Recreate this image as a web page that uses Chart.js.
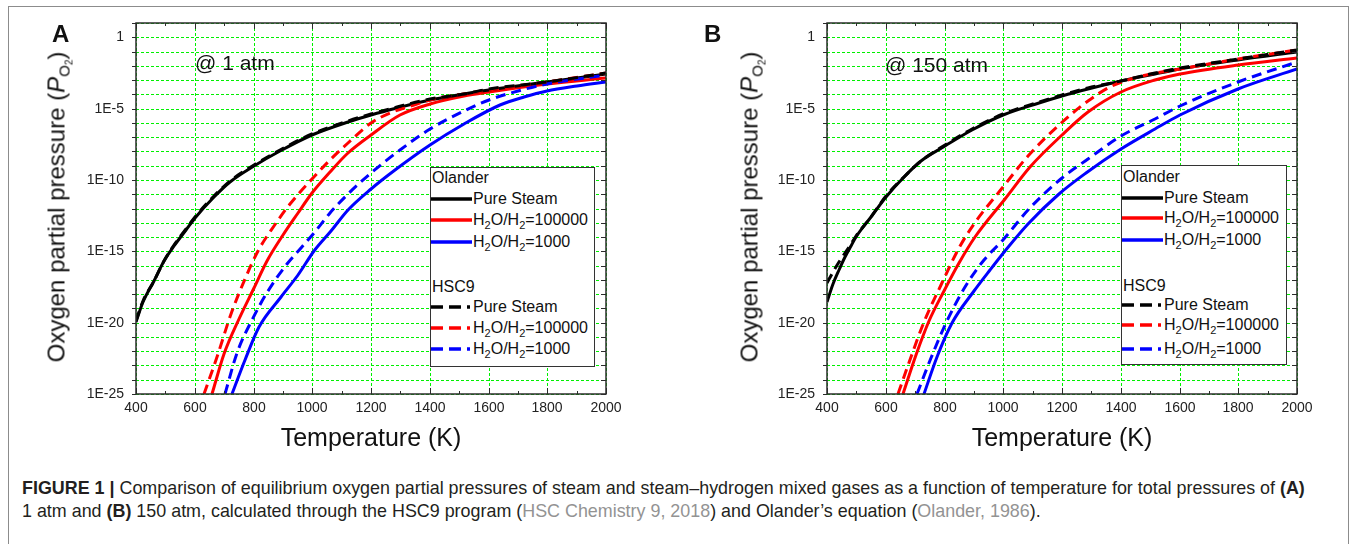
<!DOCTYPE html>
<html lang="en">
<head>
<meta charset="UTF-8">
<title>Equilibrium oxygen partial pressure</title>
<script src="https://cdn.jsdelivr.net/npm/chart.js"></script>
<style>
  body { margin: 0; background: #fff; font-family: 'Liberation Sans', Arial, sans-serif; color: #111; }
  #page { position: relative; width: 1356px; height: 544px; overflow: hidden; }
  .frame { position: absolute; left: 8px; top: 6px; width: 1339px; height: 600px; border: 1px solid #8c8c8c; }
  canvas.plot { position: absolute; top: 0; }
  .letter { position: absolute; font-weight: bold; font-size: 24px; line-height: 24px; }
  .note { position: absolute; font-size: 21px; line-height: 21px; white-space: nowrap; }
  .ytitle { position: absolute; font-size: 24px; line-height: 24px; white-space: nowrap;
            transform: translate(-50%, -50%) rotate(-90deg); }
  .ytitle .s1 { font-size: 15px; position: relative; top: 5px; }
  .ytitle .s2 { font-size: 10px; position: relative; top: 3px; }
  .legend { position: absolute; border: 1px solid #333; background: #fff; font-size: 16px; }
  .legend .row { position: absolute; left: 0; height: 16px; line-height: 16px; white-space: nowrap; }
  .legend .row svg { position: absolute; left: 0; top: 5px; }
  .legend .row span.t { position: absolute; left: 42px; top: 0; }
  .legend sub { font-size: 11px; vertical-align: -4px; line-height: 0; }
  .caption { position: absolute; left: 22px; font-size: 17.9px; line-height: 18px; white-space: nowrap; color: #231f20; }
  .caption b { font-weight: bold; }
  .caption .ref { color: #939393; }
</style>
</head>
<body>
<div id="page">
  <div class="frame"></div>
  <canvas id="chartA" class="plot" width="665" height="460" style="left:0px"></canvas>
  <canvas id="chartB" class="plot" width="665" height="460" style="left:691px"></canvas>

  <div class="letter" style="left:52px; top:22px">A</div>
  <div class="letter" style="left:704px; top:22px">B</div>
  <div class="note" style="left:195px; top:52px">@ 1 atm</div>
  <div class="note" style="left:885px; top:54px">@ 150 atm</div>
  <div class="ytitle" style="left:59px; top:207px">Oxygen partial pressure (<i>P</i><span class="s1">O<span class="s2">2</span></span>)</div>
  <div class="ytitle" style="left:752px; top:207px">Oxygen partial pressure (<i>P</i><span class="s1">O<span class="s2">2</span></span>)</div>

  <div id="legendA" class="legend" style="left:430px; top:167px; width:163px; height:198px"></div>
  <div id="legendB" class="legend" style="left:1121px; top:165px; width:164px; height:198px"></div>

  <div class="caption" style="top:479px"><b>FIGURE 1 |</b> Comparison of equilibrium oxygen partial pressures of steam and steam–hydrogen mixed gases as a function of temperature for total pressures of <b>(A)</b></div>
  <div class="caption" style="top:502px">1 atm and <b>(B)</b> 150 atm, calculated through the HSC9 program (<span class="ref">HSC Chemistry 9, 2018</span>) and Olander’s equation (<span class="ref">Olander, 1986</span>).</div>
</div>

<script>
// y values are log10 of the oxygen partial pressure
// panel A, 1 atm
const aOlPureT = [400, 425, 460, 495, 530, 570, 600, 665, 720, 800, 890, 1000, 1120, 1200, 1290, 1400, 1515, 1600, 1800, 2000];
const aOlPureP = [-19.95, -18.55, -17.1, -15.7, -14.6, -13.5, -12.65, -11.2, -10.15, -9.0, -7.95, -6.85, -5.95, -5.45, -4.95, -4.4, -4.0, -3.7, -3.15, -2.55];
const aHscPureT = [400, 425, 460, 495, 530, 570, 600, 665, 720, 800, 890, 1000, 1120, 1200, 1290, 1400, 1515, 1600, 1800, 2000];
const aHscPureP = [-19.9, -18.5, -17.05, -15.65, -14.55, -13.45, -12.6, -11.15, -10.1, -8.95, -7.9, -6.8, -5.9, -5.4, -4.92, -4.36, -3.96, -3.65, -3.1, -2.5];
const aOl5T = [660, 700, 750, 800, 845, 900, 950, 1000, 1060, 1120, 1200, 1300, 1400, 1515, 1600, 1800, 2000];
const aOl5P = [-25, -22.2, -19.75, -17.55, -15.65, -13.85, -12.3, -10.9, -9.45, -8.1, -6.85, -5.45, -4.65, -4.15, -3.85, -3.3, -2.87];
const aHsc5T = [630, 675, 725, 770, 815, 870, 925, 1000, 1060, 1120, 1200, 1265, 1345, 1400, 1515, 1600, 1800, 2000];
const aHsc5P = [-25, -22.4, -19.4, -16.95, -15.0, -13.2, -11.65, -9.9, -8.6, -7.4, -6.0, -5.28, -4.74, -4.42, -4.0, -3.68, -3.12, -2.52];
const aOl3T = [728, 770, 820, 895, 950, 1005, 1065, 1120, 1200, 1280, 1400, 1515, 1640, 1720, 1800, 1900, 2000];
const aOl3P = [-25, -22.6, -20.3, -18.2, -16.65, -15.0, -13.55, -12.1, -10.6, -9.3, -7.55, -6.1, -4.75, -4.2, -3.8, -3.45, -3.1];
const aHsc3T = [703, 745, 795, 850, 915, 960, 1005, 1060, 1120, 1200, 1300, 1400, 1515, 1600, 1700, 1800, 2000];
const aHsc3P = [-25, -22.15, -19.8, -17.75, -15.9, -14.75, -13.7, -12.3, -10.95, -9.5, -7.9, -6.45, -5.2, -4.4, -3.75, -3.3, -2.65];

// panel B, 150 atm
const bOlPureT = [400, 420, 440, 460, 480, 500, 550, 600, 665, 720, 800, 895, 1000, 1120, 1200, 1290, 1400, 1515, 1600, 1800, 2000];
const bOlPureP = [-18.55, -17.3, -16.3, -15.4, -14.65, -14.0, -12.6, -11.2, -9.75, -8.7, -7.6, -6.5, -5.45, -4.6, -4.12, -3.62, -3.08, -2.58, -2.25, -1.6, -1.02];
const bHscPureT = [400, 420, 440, 460, 480, 500, 550, 600, 665, 720, 800, 895, 1000, 1120, 1200, 1290, 1400, 1515, 1600, 1800, 2000];
const bHscPureP = [-17.2, -16.45, -15.75, -15.1, -14.5, -13.95, -12.58, -11.15, -9.7, -8.65, -7.55, -6.45, -5.4, -4.55, -4.07, -3.57, -3.03, -2.52, -2.18, -1.5, -0.92];
const bOl5T = [659, 702, 747, 798, 850, 905, 1005, 1090, 1200, 1290, 1400, 1515, 1600, 1800, 2000];
const bOl5P = [-25, -22.3, -19.9, -17.8, -15.8, -14.0, -11.3, -9.1, -6.85, -5.25, -3.85, -3.0, -2.6, -1.95, -1.45];
const bHsc5T = [642, 685, 730, 787, 850, 900, 1000, 1085, 1190, 1290, 1365, 1460, 1600, 1800, 2000];
const bHsc5P = [-25, -22.4, -19.95, -17.35, -14.8, -13.1, -10.5, -8.35, -6.15, -4.45, -3.5, -2.78, -2.2, -1.5, -0.88];
const bOl3T = [730, 775, 825, 900, 955, 1005, 1085, 1190, 1280, 1400, 1515, 1600, 1800, 2000];
const bOl3P = [-25, -22.4, -20.05, -17.8, -16.3, -14.95, -13.1, -11.0, -9.5, -7.8, -6.4, -5.45, -3.65, -2.2];
const bHsc3T = [707, 753, 805, 870, 935, 1000, 1085, 1200, 1290, 1400, 1515, 1600, 1800, 2000];
const bHsc3P = [-25, -22.5, -20.0, -17.5, -15.6, -14.2, -12.1, -9.85, -8.5, -6.95, -5.7, -4.85, -3.15, -1.72];

// axes
const xMin = 400, xMax = 2000, xStep = 200;
const yDecades = [1, 0, -1, -2, -3, -4, -5, -6, -7, -8, -9, -10, -11, -12, -13, -14, -15, -16, -17, -18, -19, -20, -21, -22, -23, -24, -25];
const yLabelExp = [0, -5, -10, -15, -20, -25];
const yLabelText = ['1', '1E-5', '1E-10', '1E-15', '1E-20', '1E-25'];

const seriesNames = ['Pure Steam', 'H<sub>2</sub>O/H<sub>2</sub>=100000', 'H<sub>2</sub>O/H<sub>2</sub>=1000'];
const seriesColors = ['#000000', '#ff0000', '#0000ff'];
const gridGreen = '#00f000';

Chart.defaults.font.family = "'Liberation Sans', Arial, sans-serif";

function toPoints(t, p) {
  return t.map((v, i) => ({ x: v, y: Math.pow(10, p[i]) }));
}

// tick marks on all four sides and the box around the plot
const frameTicks = {
  id: 'frameTicks',
  afterDraw(chart) {
    const { ctx, chartArea: a, scales: { x, y } } = chart;
    ctx.save();
    ctx.strokeStyle = '#2b2b2b';
    ctx.lineWidth = 1;
    ctx.beginPath();
    for (let t = xMin; t <= xMax; t += xStep / 2) {
      const px = Math.round(x.getPixelForValue(t)) + 0.5;
      const len = t % xStep === 0 ? 6 : 3;
      ctx.moveTo(px, a.bottom); ctx.lineTo(px, a.bottom - len);
      ctx.moveTo(px, a.top); ctx.lineTo(px, a.top + len);
    }
    yDecades.forEach(e => {
      const py = Math.round(y.getPixelForValue(Math.pow(10, e))) + 0.5;
      ctx.moveTo(a.left - 4, py); ctx.lineTo(a.left, py);
      ctx.moveTo(a.right, py); ctx.lineTo(a.right - 5, py);
    });
    ctx.stroke();
    ctx.lineWidth = 1.5;
    ctx.strokeRect(a.left, a.top, a.right - a.left, a.bottom - a.top);
    ctx.restore();
  }
};

function makePanel(id, sets) {
  const datasets = sets.map(s => ({
    label: s.label,
    data: toPoints(s.t, s.p),
    borderColor: s.color,
    borderWidth: 3,
    borderDash: s.dash ? [10, 6] : [],
    pointRadius: 0,
    fill: false,
    cubicInterpolationMode: 'monotone'
  }));
  return new Chart(document.getElementById(id), {
    type: 'line',
    data: { datasets },
    options: {
      responsive: false,
      animation: false,
      layout: { padding: { left: 0, top: 23, right: 59, bottom: 0 } },
      plugins: { legend: { display: false }, tooltip: { enabled: false } },
      scales: {
        x: {
          type: 'linear', min: xMin, max: xMax, alignToPixels: true,
          ticks: { stepSize: xStep, color: '#222', font: { size: 14 }, padding: 6, maxRotation: 0,
                   callback: v => String(v) },
          grid: { color: gridGreen, lineWidth: 1, drawTicks: false },
          border: { display: false, dash: [3, 2] },
          title: { display: true, text: 'Temperature (K)', color: '#111', font: { size: 25 }, padding: { top: 0, bottom: 6 } },
          afterFit: s => { s.height = 66; }
        },
        y: {
          type: 'logarithmic', min: 1e-25, max: 10, alignToPixels: true,
          afterBuildTicks: s => { s.ticks = yDecades.map(e => ({ value: Math.pow(10, e) })); },
          ticks: {
            autoSkip: false, color: '#222', padding: 12,
            font: { family: "'Liberation Sans Narrow', 'Liberation Sans', Arial", size: 14 },
            callback: v => {
              const k = yLabelExp.indexOf(Math.round(Math.log10(v)));
              return k >= 0 ? yLabelText[k] : '';
            }
          },
          grid: { color: gridGreen, lineWidth: 1, drawTicks: false },
          border: { display: false, dash: [3, 2] },
          afterFit: s => { s.width = 136; }
        }
      }
    },
    plugins: [frameTicks]
  });
}

// dashed (HSC9) first so they sit on top of the solid Olander lines
makePanel('chartA', [
  { label: 'HSC9 Pure Steam', t: aHscPureT, p: aHscPureP, color: seriesColors[0], dash: true },
  { label: 'HSC9 100000', t: aHsc5T, p: aHsc5P, color: seriesColors[1], dash: true },
  { label: 'HSC9 1000', t: aHsc3T, p: aHsc3P, color: seriesColors[2], dash: true },
  { label: 'Olander Pure Steam', t: aOlPureT, p: aOlPureP, color: seriesColors[0], dash: false },
  { label: 'Olander 100000', t: aOl5T, p: aOl5P, color: seriesColors[1], dash: false },
  { label: 'Olander 1000', t: aOl3T, p: aOl3P, color: seriesColors[2], dash: false }
]);
makePanel('chartB', [
  { label: 'HSC9 Pure Steam', t: bHscPureT, p: bHscPureP, color: seriesColors[0], dash: true },
  { label: 'HSC9 100000', t: bHsc5T, p: bHsc5P, color: seriesColors[1], dash: true },
  { label: 'HSC9 1000', t: bHsc3T, p: bHsc3P, color: seriesColors[2], dash: true },
  { label: 'Olander Pure Steam', t: bOlPureT, p: bOlPureP, color: seriesColors[0], dash: false },
  { label: 'Olander 100000', t: bOl5T, p: bOl5P, color: seriesColors[1], dash: false },
  { label: 'Olander 1000', t: bOl3T, p: bOl3P, color: seriesColors[2], dash: false }
]);

// legend boxes: two groups with a header each
function buildLegend(id, rowTops) {
  const box = document.getElementById(id);
  const rows = [{ head: 'Olander' }];
  seriesNames.forEach((n, i) => rows.push({ name: n, color: seriesColors[i], dash: false }));
  rows.push({ head: 'HSC9' });
  seriesNames.forEach((n, i) => rows.push({ name: n, color: seriesColors[i], dash: true }));
  rows.forEach((r, i) => {
    const div = document.createElement('div');
    div.className = 'row';
    div.style.top = (rowTops[i] - 8) + 'px';
    if (r.head) {
      div.style.left = '1px';
      div.textContent = r.head;
    } else {
      const dash = r.dash ? ' stroke-dasharray="12 6 12 6 3 40"' : '';
      div.innerHTML = '<svg width="41" height="6"><line x1="0" y1="3" x2="41" y2="3" stroke="' + r.color +
        '" stroke-width="3.5"' + dash + '/></svg><span class="t">' + r.name + '</span>';
    }
    box.appendChild(div);
  });
}
buildLegend('legendA', [10, 31, 52, 74, 119, 139, 160, 181]);
buildLegend('legendB', [11, 32, 52, 74, 120, 139, 159, 183]);
</script>
</body>
</html>
